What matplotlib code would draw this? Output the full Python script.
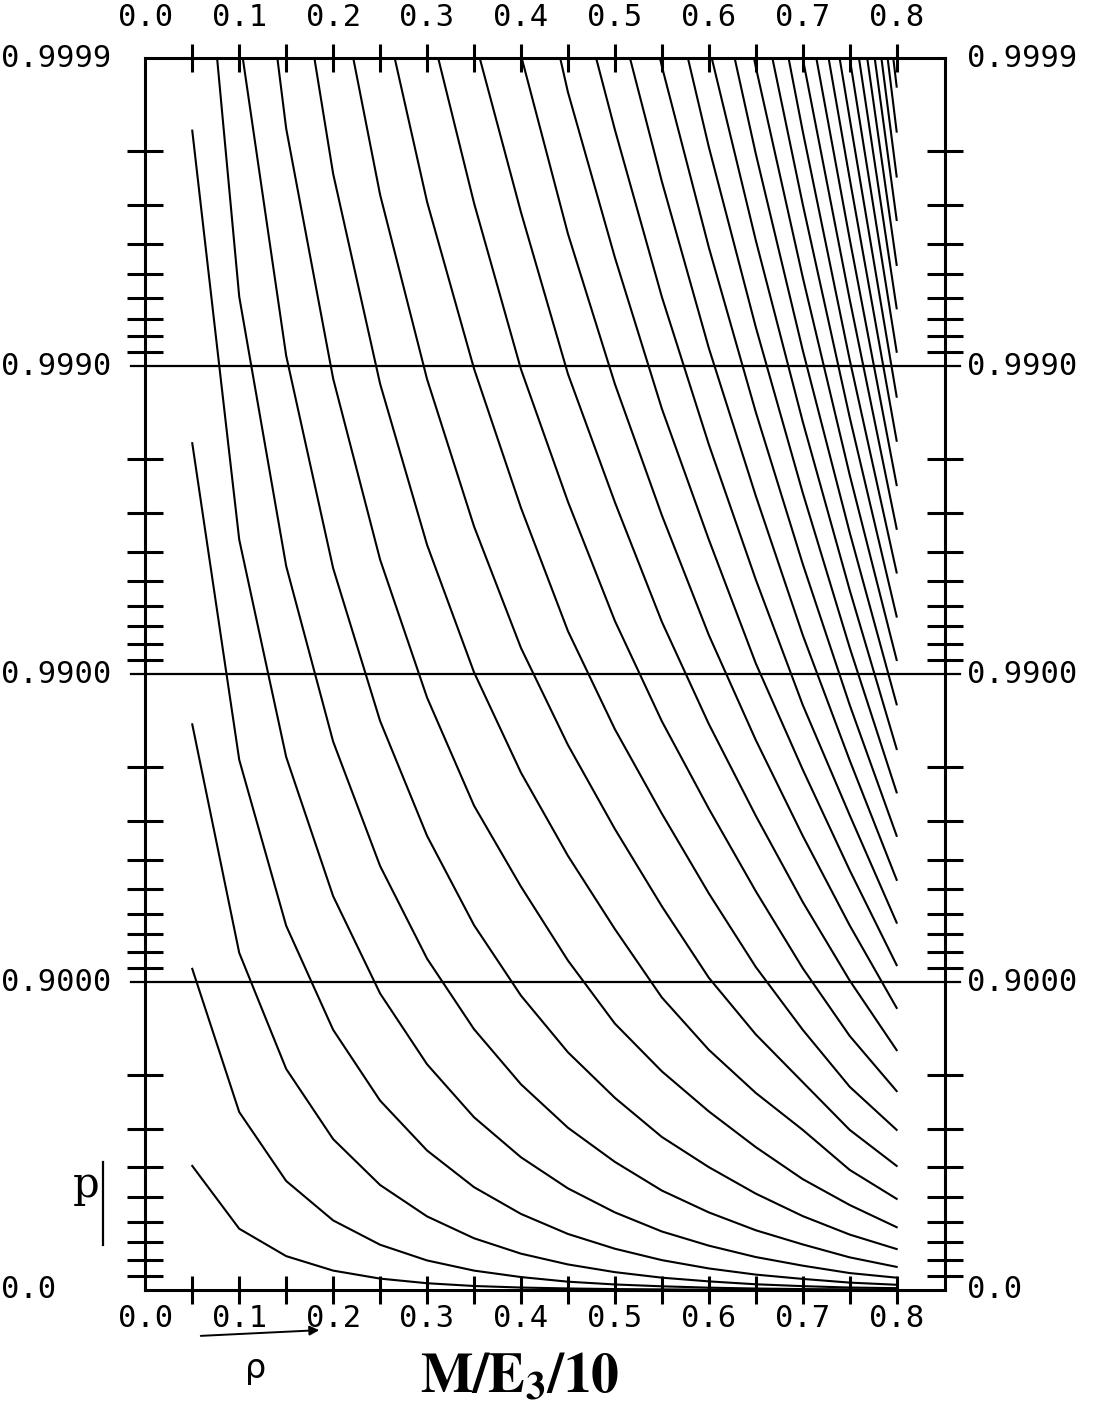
import numpy as np
import matplotlib
matplotlib.use("Agg")
import matplotlib.pyplot as plt

nan = np.nan

# utilisation rho at the computed points
rho = [0.05, 0.10, 0.15, 0.20, 0.25, 0.30, 0.35, 0.40,
       0.45, 0.50, 0.55, 0.60, 0.65, 0.70, 0.75, 0.80]

# one curve per queue length n, stored as "nines": -log10(1 - p)
# (nan = off the top of the sheet)
n00 = [0.403, 0.199, 0.110, 0.063, 0.037, 0.022, 0.013, 0.008, 0.005, 0.003, 0.002, 0.001, 0.0006, 0.0004, 0.0002, 0.0001]
n01 = [1.043, 0.578, 0.354, 0.226, 0.147, 0.096, 0.063, 0.042, 0.027, 0.018, 0.012, 0.0076, 0.0048, 0.003, 0.002, 0.001]
n02 = [1.837, 1.095, 0.718, 0.490, 0.341, 0.239, 0.168, 0.118, 0.083, 0.058, 0.040, 0.028, 0.0186, 0.0125, 0.008, 0.006]
n03 = [2.750, 1.722, 1.183, 0.845, 0.615, 0.453, 0.334, 0.247, 0.182, 0.134, 0.097, 0.070, 0.050, 0.036, 0.024, 0.017]
n04 = [3.765, 2.437, 1.731, 1.279, 0.963, 0.733, 0.561, 0.431, 0.330, 0.252, 0.190, 0.144, 0.107, 0.079, 0.055, 0.040]
n05 = [4.87, 3.226, 2.351, 1.781, 1.377, 1.076, 0.847, 0.668, 0.527, 0.416, 0.323, 0.252, 0.194, 0.148, 0.106, 0.075]
n06 = [nan, 4.080, 3.034, 2.344, 1.848, 1.475, 1.185, 0.956, 0.772, 0.624, 0.497, 0.399, 0.313, 0.240, 0.180, 0.133]
n07 = [nan, 4.989, 3.772, 2.960, 2.372, 1.924, 1.573, 1.310, 1.070, 0.865, 0.710, 0.580, 0.464, 0.360, 0.276, 0.204]
n08 = [nan, nan, 4.565, 3.625, 2.943, 2.420, 2.006, 1.680, 1.410, 1.172, 0.950, 0.780, 0.640, 0.520, 0.390, 0.296]
n09 = [nan, nan, nan, 4.333, 3.557, 2.958, 2.480, 2.085, 1.770, 1.497, 1.246, 1.014, 0.830, 0.675, 0.520, 0.403]
n10 = [nan, nan, nan, nan, 4.211, 3.534, 2.992, 2.540, 2.140, 1.821, 1.547, 1.288, 1.049, 0.845, 0.660, 0.520]
n11 = [nan, nan, nan, nan, nan, 4.147, 3.530, 2.990, 2.560, 2.173, 1.847, 1.563, 1.295, 1.045, 0.825, 0.646]
n12 = [nan, nan, nan, nan, nan, nan, 4.070, 3.500, 2.975, 2.558, 2.170, 1.838, 1.540, 1.260, 1.005, 0.779]
n13 = [nan, nan, nan, nan, nan, nan, nan, 4.010, 3.430, 2.942, 2.516, 2.127, 1.786, 1.475, 1.184, 0.916]
n14 = [nan, nan, nan, nan, nan, nan, nan, 4.560, 3.890, 3.353, 2.862, 2.437, 2.035, 1.690, 1.363, 1.055]
n15 = [nan, nan, nan, nan, nan, nan, nan, nan, 4.350, 3.768, 3.225, 2.746, 2.307, 1.900, 1.542, 1.193]
n16 = [nan, nan, nan, nan, nan, nan, nan, nan, nan, 4.190, 3.600, 3.059, 2.579, 2.127, 1.720, 1.332]
n17 = [nan, nan, nan, nan, nan, nan, nan, nan, nan, 4.620, 3.974, 3.386, 2.851, 2.358, 1.900, 1.475]
n18 = [nan, nan, nan, nan, nan, nan, nan, nan, nan, nan, 4.360, 3.712, 3.127, 2.589, 2.086, 1.616]
n19 = [nan, nan, nan, nan, nan, nan, nan, nan, nan, nan, nan, 4.040, 3.409, 2.820, 2.273, 1.757]
n20 = [nan, nan, nan, nan, nan, nan, nan, nan, nan, nan, nan, 4.380, 3.690, 3.052, 2.460, 1.902]
n21 = [nan, nan, nan, nan, nan, nan, nan, nan, nan, nan, nan, 4.720, 3.972, 3.289, 2.647, 2.046]
n22 = [nan, nan, nan, nan, nan, nan, nan, nan, nan, nan, nan, nan, 4.260, 3.526, 2.834, 2.187]
n23 = [nan, nan, nan, nan, nan, nan, nan, nan, nan, nan, nan, nan, 4.550, 3.763, 3.021, 2.330]
n24 = [nan, nan, nan, nan, nan, nan, nan, nan, nan, nan, nan, nan, 4.840, 4.000, 3.217, 2.472]
n25 = [nan, nan, nan, nan, nan, nan, nan, nan, nan, nan, nan, nan, nan, 4.240, 3.413, 2.614]
n26 = [nan, nan, nan, nan, nan, nan, nan, nan, nan, nan, nan, nan, nan, 4.480, 3.609, 2.758]
n27 = [nan, nan, nan, nan, nan, nan, nan, nan, nan, nan, nan, nan, nan, 4.720, 3.804, 2.901]
n28 = [nan, nan, nan, nan, nan, nan, nan, nan, nan, nan, nan, nan, nan, 4.960, 4.000, 3.047]
n29 = [nan, nan, nan, nan, nan, nan, nan, nan, nan, nan, nan, nan, nan, nan, 4.200, 3.188]
n30 = [nan, nan, nan, nan, nan, nan, nan, nan, nan, nan, nan, nan, nan, nan, 4.400, 3.329]
n31 = [nan, nan, nan, nan, nan, nan, nan, nan, nan, nan, nan, nan, nan, nan, 4.600, 3.475]
n32 = [nan, nan, nan, nan, nan, nan, nan, nan, nan, nan, nan, nan, nan, nan, 4.800, 3.616]
n33 = [nan, nan, nan, nan, nan, nan, nan, nan, nan, nan, nan, nan, nan, nan, 5.000, 3.762]
n34 = [nan, nan, nan, nan, nan, nan, nan, nan, nan, nan, nan, nan, nan, nan, 5.200, 3.908]

curves = [n00, n01, n02, n03, n04, n05, n06, n07, n08, n09,
          n10, n11, n12, n13, n14, n15, n16, n17, n18, n19,
          n20, n21, n22, n23, n24, n25, n26, n27, n28, n29,
          n30, n31, n32, n33, n34]

decade_pos = [0, 1, 2, 3, 4]
decade_labels = ["0.0", "0.9000", "0.9900", "0.9990", "0.9999"]
rho_labels = ["0.0", "0.1", "0.2", "0.3", "0.4", "0.5", "0.6", "0.7", "0.8"]

# sheet geometry in pixels
W, H = 1098, 1404
X0, X1 = 145.3, 945.0      # frame left / right
YB, YT = 1290.0, 58.3      # frame bottom / top
PX_PER_RHO = 939.2

fig = plt.figure(figsize=(W / 100, H / 100), dpi=100)
ax = fig.add_axes([X0 / W, 1 - YB / H, (X1 - X0) / W, (YB - YT) / H])
xmax = (X1 - X0) / PX_PER_RHO
ax.set_xlim(0, xmax)
ax.set_ylim(0, 4)

for c in curves:
    ax.plot(rho, c, color="black", lw=1.5, solid_joinstyle="round")

# decade lines run a little past the frame on both sides
for lev in decade_pos[1:4]:
    ax.plot([-0.0155, xmax + 0.0165], [lev, lev], color="black", lw=1.6,
            clip_on=False)

# probability ticks inside each decade: 1-p = m * 10^-d
minor = [d - np.log10(m) for d in range(4)
         for m in (0.9, 0.8, 0.7, 0.6, 0.5, 0.4, 0.3, 0.2)]
ax.set_yticks(minor)
ax.set_yticklabels([])
ax.tick_params(axis="y", direction="inout", length=26, width=2.2,
               left=True, right=True)
ax.set_xticks(rho)
ax.set_xticklabels([])
ax.tick_params(axis="x", direction="inout", length=20, width=2.2,
               top=True, bottom=True)
for s in ax.spines.values():
    s.set_linewidth(2.2)

num_font = dict(family="DejaVu Sans Mono", fontsize=22, color="black")

def px_x(x):
    return (x - X0) / PX_PER_RHO

def px_y(y):
    return (YB - y) / 307.9

for lev, lab in zip(decade_pos, decade_labels):
    ax.text(px_x(1), lev, lab, ha="left", va="center", clip_on=False, **num_font)
    ax.text(px_x(967), lev, lab, ha="left", va="center", clip_on=False, **num_font)

for i, lab in enumerate(rho_labels):
    r = 0.1 * i
    ax.text(r, px_y(1318), lab, ha="center", va="center", clip_on=False, **num_font)
    ax.text(r, px_y(18), lab, ha="center", va="center", clip_on=False, **num_font)

# axis names
ax.text(px_x(86), px_y(1185), "p", ha="center", va="center", clip_on=False,
        family="DejaVu Serif", fontsize=30)
ax.plot([px_x(103), px_x(103)], [px_y(1162), px_y(1245)], color="black",
        lw=1.6, clip_on=False)
ax.annotate("", xy=(px_x(322), px_y(1330)), xytext=(px_x(198), px_y(1336)),
            xycoords="data", annotation_clip=False,
            arrowprops=dict(arrowstyle="-|>", color="black", lw=1.4,
                            mutation_scale=14))
ax.text(px_x(256), px_y(1368), "\u03c1", ha="center", va="center",
        clip_on=False, family="DejaVu Sans", fontsize=24)

plt.rcParams["mathtext.fontset"] = "stix"
fig.text(520 / W, 1 - 1378 / H, r"$\mathbf{M/E_3/10}$", ha="center",
         va="center", fontsize=40)

fig.savefig("out.png", dpi=100)
